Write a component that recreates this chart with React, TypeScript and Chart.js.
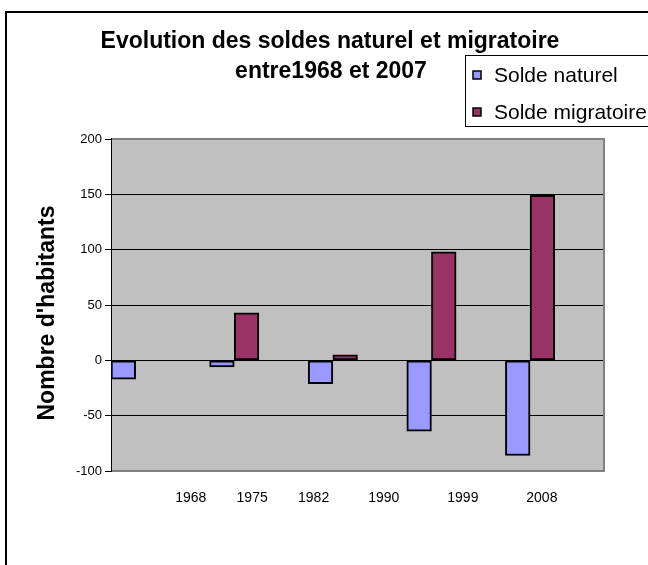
import React, { useEffect, useRef } from "react";
import { Chart, registerables } from "chart.js";

Chart.register(...registerables);

const categories = ["1968", "1975", "1982", "1990", "1999"];
const soldeNaturel = [-17, -6, -21, -64, -86];
const soldeMigratoire = [0, 43, 5, 98, 149];
const axisYears = [1968, 1975, 1982, 1990, 1999, 2008];
const axisLabels = ["1968", "1975", "1982", "1990", "1999", "2008"];
const seriesNames = ["Solde naturel", "Solde migratoire"];
const seriesColors = ["#9999FF", "#993366"];
const titleLines = ["Evolution des soldes naturel et migratoire", "entre1968 et 2007"];
const yAxisTitle = "Nombre d'habitants";
const yMin = -100;
const yMax = 200;
const yStep = 50;
const xMin = 1963.6;
const xMax = 2010.4;

const FONT = "'Liberation Sans', Arial, sans-serif";

const decorPlugin = {
  id: "decor",
  beforeDraw(chart: any) {
    const { ctx, chartArea } = chart;
    const { left, top, right, bottom } = chartArea;
    ctx.save();
    ctx.fillStyle = "#ffffff";
    ctx.fillRect(0, 0, chart.width, chart.height);
    ctx.fillStyle = "#C0C0C0";
    ctx.fillRect(left, top, right - left, bottom - top);
    ctx.strokeStyle = "#000000";
    ctx.lineWidth = 2;
    ctx.strokeRect(6, 12, 800, 800);
    ctx.restore();
  },
  beforeDatasetsDraw(chart: any) {
    const { ctx, chartArea } = chart;
    const { left, top, right, bottom } = chartArea;
    ctx.save();
    ctx.strokeStyle = "#808080";
    ctx.lineWidth = 2;
    ctx.beginPath();
    ctx.moveTo(left, top);
    ctx.lineTo(right, top);
    ctx.lineTo(right, bottom);
    ctx.lineTo(left, bottom);
    ctx.stroke();
    ctx.strokeStyle = "#000000";
    ctx.lineWidth = 1;
    ctx.beginPath();
    ctx.moveTo(left + 0.5, top - 1);
    ctx.lineTo(left + 0.5, bottom + 1);
    ctx.stroke();
    ctx.restore();
  },
  afterDraw(chart: any) {
    const { ctx } = chart;
    ctx.save();
    ctx.fillStyle = "#000000";
    ctx.textBaseline = "middle";
    ctx.font = `bold 23px ${FONT}`;
    ctx.textAlign = "center";
    ctx.fillText(titleLines[0], 330, 42);
    ctx.fillText(titleLines[1], 331, 72);

    // y axis title
    ctx.save();
    ctx.translate(48, 313);
    ctx.rotate(-Math.PI / 2);
    ctx.font = `bold 23px ${FONT}`;
    ctx.fillText(yAxisTitle, 0, 0);
    ctx.restore();

    // legend
    ctx.fillStyle = "#ffffff";
    ctx.fillRect(465.5, 55.5, 300, 71);
    ctx.strokeStyle = "#000000";
    ctx.lineWidth = 1;
    ctx.strokeRect(465.5, 55.5, 300, 71);
    ctx.font = `21px ${FONT}`;
    ctx.textAlign = "left";
    const ys = [75, 112];
    seriesNames.forEach((name, i) => {
      ctx.fillStyle = seriesColors[i];
      ctx.fillRect(473, ys[i] - 4, 8, 8);
      ctx.strokeStyle = "#000000";
      ctx.lineWidth = 1.5;
      ctx.strokeRect(473, ys[i] - 4, 8, 8);
      ctx.fillStyle = "#000000";
      ctx.fillText(name, 494, ys[i] + 1);
    });
    ctx.restore();
  },
};

export default function App() {
  const canvasRef = useRef<HTMLCanvasElement | null>(null);

  useEffect(() => {
    if (!canvasRef.current) return;
    const chart = new Chart(canvasRef.current, {
      type: "bar",
      data: {
        labels: categories,
        datasets: [
          {
            label: seriesNames[0],
            data: soldeNaturel,
            backgroundColor: seriesColors[0],
            borderColor: "#000000",
            borderWidth: 2,
            borderSkipped: false,
            xAxisID: "x",
          },
          {
            label: seriesNames[1],
            data: soldeMigratoire,
            backgroundColor: seriesColors[1],
            borderColor: "#000000",
            borderWidth: 2,
            borderSkipped: false,
            xAxisID: "x",
          },
          { label: "", data: categories.map(() => null), xAxisID: "x" },
          { label: "", data: categories.map(() => null), xAxisID: "x" },
        ],
      },
      options: {
        responsive: false,
        animation: false,
        events: [],
        layout: { padding: { top: 139, right: 44, left: 0, bottom: 0 } },
        datasets: { bar: { barPercentage: 1, categoryPercentage: 1 } },
        plugins: {
          legend: { display: false },
          title: { display: false },
          tooltip: { enabled: false },
        },
        scales: {
          x: {
            type: "category",
            display: false,
            grid: { display: false },
          },
          x2: {
            type: "linear",
            position: "bottom",
            bounds: "data",
            min: xMin,
            max: xMax,
            grid: { display: false, drawTicks: false },
            border: { display: false },
            afterBuildTicks(scale: any) {
              scale.ticks = axisYears.map((v) => ({ value: v }));
              scale.min = xMin;
              scale.max = xMax;
            },
            afterFit(scale: any) {
              scale.height = 94;
            },
            ticks: {
              autoSkip: false,
              maxRotation: 0,
              padding: 19,
              color: "#000000",
              font: { family: FONT, size: 14 },
              callback: (value: any) => {
                const i = axisYears.indexOf(Number(value));
                return i >= 0 ? axisLabels[i] : "";
              },
            },
          },
          y: {
            type: "linear",
            min: yMin,
            max: yMax,
            afterFit(scale: any) {
              scale.width = 111;
            },
            ticks: {
              stepSize: yStep,
              padding: 3,
              color: "#000000",
              font: { family: FONT, size: 13 },
            },
            grid: {
              color: (c: any) =>
                c.tick && (c.tick.value === yMin || c.tick.value === yMax) ? "rgba(0,0,0,0)" : "#000000",
              tickColor: "#000000",
              tickLength: 6,
              lineWidth: 1,
            },
            border: { display: true, color: "#000000", width: 1 },
            title: { display: false },
          },
        },
      },
      plugins: [decorPlugin],
    });
    return () => chart.destroy();
  }, []);

  return (
    <div style={{ position: "absolute", left: 0, top: 0, width: 648, height: 565 }}>
      <canvas ref={canvasRef} width={648} height={565} style={{ display: "block" }} />
    </div>
  );
}
